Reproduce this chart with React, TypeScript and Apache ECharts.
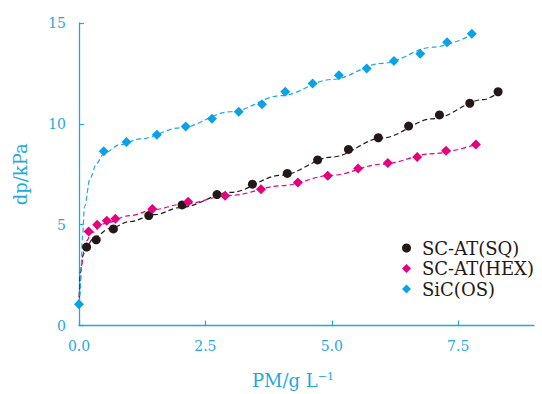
import React, { useEffect, useRef } from "react";
import * as echarts from "echarts";

const sqX = [0.15, 0.34, 0.68, 1.38, 2.04, 2.73, 3.43, 4.12, 4.72, 5.33, 5.92, 6.52, 7.13, 7.73, 8.29];
const sqY = [3.89, 4.25, 4.79, 5.45, 5.98, 6.49, 7.01, 7.54, 8.21, 8.73, 9.31, 9.89, 10.44, 11.02, 11.59];

const hexX = [0.19, 0.36, 0.55, 0.72, 1.45, 2.16, 2.89, 3.6, 4.33, 4.92, 5.52, 6.11, 6.69, 7.26, 7.85];
const hexY = [4.66, 4.99, 5.2, 5.29, 5.78, 6.14, 6.44, 6.76, 7.09, 7.42, 7.78, 8.06, 8.36, 8.67, 8.98];

const osX = [0, 0.49, 0.94, 1.54, 2.11, 2.63, 3.16, 3.62, 4.08, 4.62, 5.14, 5.69, 6.23, 6.75, 7.28, 7.77];
const osY = [1.05, 8.64, 9.1, 9.46, 9.87, 10.25, 10.6, 10.97, 11.59, 12.0, 12.41, 12.74, 13.12, 13.48, 14.05, 14.47];

// dashed trend curves
const sqFitX = [0, 0.03, 0.08, 0.15, 0.3, 0.6, 1, 1.5, 2, 3, 4, 5, 6, 7, 8, 8.3];
const sqFitY = [1.0, 2.7, 3.5, 3.95, 4.35, 4.8, 5.15, 5.5, 5.85, 6.6, 7.45, 8.35, 9.3, 10.25, 11.2, 11.55];

const hexFitX = [0, 0.02, 0.05, 0.1, 0.15, 0.25, 0.5, 1, 1.5, 2, 3, 4, 5, 6, 7, 7.85];
const hexFitY = [1.05, 2.0, 3.0, 3.7, 4.2, 4.6, 5.05, 5.45, 5.75, 6.0, 6.45, 6.93, 7.45, 8.0, 8.52, 8.98];

const osFitX = [0, 0.02, 0.045, 0.065, 0.11, 0.22, 0.35, 0.5, 0.8, 1.2, 2, 3, 4, 5, 6, 7, 7.85];
const osFitY = [1.05, 1.5, 3.0, 4.3, 5.9, 7.3, 8.05, 8.55, 8.95, 9.25, 9.8, 10.6, 11.4, 12.2, 13.0, 13.8, 14.5];

const xTicks = [0, 2.5, 5, 7.5];
const names = ["SC-AT(SQ)", "SC-AT(HEX)", "SiC(OS)"];

const CYAN = "#1fa8e1";
const PT_CYAN = "#0aa2e6";
const MAGENTA = "#e4007f";
const BLACK = "#231815";
const FONT = "DejaVu Serif";

const zip = (xs: number[], ys: number[]) => xs.map((x, i) => [x, ys[i]]);

export default function App() {
  const ref = useRef<HTMLDivElement>(null);
  useEffect(() => {
    if (!ref.current) return;
    const chart = echarts.init(ref.current, null, { renderer: "svg" });
    const fitLine = (name: string, data: number[][], color: string) => ({
      name: name + "-fit",
      type: "line",
      data,
      showSymbol: false,
      smooth: 0.35,
      smoothMonotone: "x",
      silent: true,
      z: 1,
      lineStyle: { color, width: 1.2, type: [5, 3] },
    });
    chart.setOption({
      animation: false,
      grid: { left: 79, right: 8, top: 23, bottom: 66 },
      legend: {
        orient: "vertical",
        left: 397,
        top: 233,
        itemWidth: 9,
        itemHeight: 9,
        itemGap: 0.5,
        textStyle: { fontFamily: FONT, fontSize: 18, color: BLACK, lineHeight: 20, padding: [0, 0, 0, 6] },
        data: [
          { name: names[0], icon: "circle", itemStyle: { color: BLACK } },
          { name: names[1], icon: "diamond", itemStyle: { color: MAGENTA } },
          { name: names[2], icon: "diamond", itemStyle: { color: PT_CYAN } },
        ],
      },
      xAxis: {
        type: "value",
        min: 0,
        max: 9,
        name: "PM/g L{sup|−1}",
        nameLocation: "middle",
        nameGap: 45,
        nameTextStyle: {
          fontFamily: FONT,
          fontSize: 18,
          color: CYAN,
          padding: [0, 27, 0, 0],
          rich: { sup: { fontFamily: FONT, fontSize: 11, color: CYAN, verticalAlign: "top", padding: [0, 0, 8, 0] } },
        },
        axisLine: { lineStyle: { color: CYAN, width: 1.3 } },
        axisTick: { inside: true, length: 5, customValues: xTicks, lineStyle: { color: CYAN, width: 1.2 } },
        axisLabel: {
          customValues: xTicks,
          formatter: (v: number) => v.toFixed(1),
          fontFamily: FONT,
          fontSize: 14,
          color: CYAN,
          margin: 13,
        },
        splitLine: { show: false },
      },
      yAxis: {
        type: "value",
        min: 0,
        max: 15,
        interval: 5,
        name: "dp/kPa",
        nameLocation: "middle",
        nameGap: 50,
        nameTextStyle: { fontFamily: FONT, fontSize: 18, color: CYAN },
        axisLine: { show: true, lineStyle: { color: CYAN, width: 1.3 } },
        axisTick: { show: true, inside: true, length: 5, lineStyle: { color: CYAN, width: 1.2 } },
        axisLabel: { fontFamily: FONT, fontSize: 14, color: CYAN, margin: 13 },
        splitLine: { show: false },
      },
      series: [
        fitLine(names[0], zip(sqFitX, sqFitY), BLACK),
        fitLine(names[1], zip(hexFitX, hexFitY), MAGENTA),
        fitLine(names[2], zip(osFitX, osFitY), CYAN),
        {
          name: names[0],
          type: "scatter",
          symbol: "circle",
          symbolSize: 9,
          z: 3,
          itemStyle: { color: BLACK, opacity: 1 },
          data: zip(sqX, sqY),
        },
        {
          name: names[1],
          type: "scatter",
          symbol: "diamond",
          symbolSize: 10,
          z: 3,
          itemStyle: { color: MAGENTA, opacity: 1 },
          data: zip(hexX, hexY),
        },
        {
          name: names[2],
          type: "scatter",
          symbol: "diamond",
          symbolSize: 10,
          z: 4,
          itemStyle: { color: PT_CYAN, opacity: 1 },
          data: zip(osX, osY),
        },
      ],
    });
    return () => chart.dispose();
  }, []);
  return <div ref={ref} style={{ width: 542, height: 394, position: "absolute", left: 0, top: 0 }} />;
}
